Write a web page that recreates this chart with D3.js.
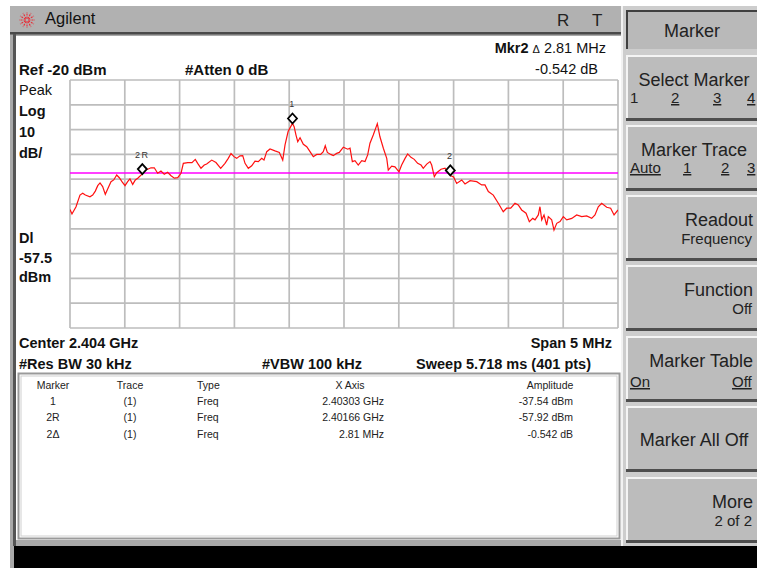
<!DOCTYPE html>
<html>
<head>
<meta charset="utf-8">
<script src="https://cdnjs.cloudflare.com/ajax/libs/d3/7.8.5/d3.min.js"></script>
<style>
body { margin: 0; background: #fff; }
svg text { font-family: "Liberation Sans", Arial, sans-serif; }
</style>
</head>
<body>
<svg id="screen" width="757" height="568"></svg>
<script>

// trace: offset from start freq 2401 MHz (MHz) and level (dBm)
var traceOffset = [
    0.000,0.018,0.055,0.091,0.116,0.140,0.182,0.207,0.231,0.253,
    0.274,0.298,0.322,0.353,0.374,0.399,0.426,0.450,0.474,0.502,
    0.526,0.547,0.572,0.596,0.618,0.660,0.678,0.709,0.739,0.769,
    0.800,0.830,0.860,0.891,0.922,0.952,0.983,1.013,1.034,1.074,
    1.113,1.143,1.165,1.195,1.225,1.247,1.293,1.332,1.375,1.414,
    1.444,1.469,1.496,1.521,1.551,1.576,1.597,1.627,1.658,1.688,
    1.718,1.749,1.770,1.795,1.825,1.870,1.910,1.941,1.962,1.990,
    2.030,2.045,2.062,2.078,2.099,2.129,2.160,2.190,2.220,2.251,
    2.287,2.311,2.329,2.348,2.379,2.402,2.433,2.457,2.494,2.534,
    2.555,2.576,2.600,2.630,2.662,2.692,2.716,2.737,2.767,2.804,
    2.828,2.859,2.890,2.904,2.935,2.965,3.002,3.026,3.057,3.081,
    3.111,3.141,3.172,3.203,3.223,3.255,3.285,3.300,3.324,3.346,
    3.385,3.422,3.470,3.500,3.528,3.574,3.604,3.650,3.711,3.756,
    3.786,3.817,3.862,3.908,3.953,3.984,4.021,4.060,4.090,4.121,
    4.161,4.191,4.222,4.243,4.273,4.288,4.304,4.325,4.349,4.364,
    4.395,4.416,4.441,4.471,4.501,4.532,4.578,4.623,4.669,4.714,
    4.760,4.790,4.820,4.851,4.897,4.933,4.964,5.000
];
var traceLevel = [
    -72.2,-74.0,-71.1,-66.4,-65.7,-66.4,-67.1,-66.4,-64.8,-62.6,
    -61.5,-63.0,-66.1,-63.0,-61.0,-60.3,-58.3,-59.4,-61.0,-62.6,
    -61.0,-59.9,-62.1,-60.3,-59.6,-57.9,-56.3,-56.0,-55.4,-55.4,
    -57.6,-56.7,-58.0,-57.2,-58.6,-59.6,-59.4,-57.6,-53.6,-53.3,
    -53.3,-52.0,-53.6,-55.6,-54.3,-53.9,-52.3,-53.3,-55.6,-53.6,
    -51.6,-49.6,-50.9,-51.6,-50.6,-50.5,-53.6,-55.6,-54.6,-52.7,
    -52.9,-51.6,-52.3,-48.9,-47.8,-48.6,-49.2,-52.3,-46.2,-40.8,
    -37.5,-38.8,-42.2,-44.9,-43.3,-45.9,-46.9,-48.9,-50.9,-50.0,
    -50.0,-48.9,-46.5,-49.2,-50.0,-50.5,-49.6,-49.2,-47.1,-47.9,
    -47.5,-52.9,-52.5,-54.3,-52.5,-52.9,-50.2,-45.5,-42.2,-37.6,
    -42.9,-47.5,-51.6,-56.3,-54.7,-55.0,-57.0,-54.3,-51.6,-49.8,
    -51.2,-52.0,-53.6,-54.3,-55.6,-53.9,-52.9,-54.3,-59.0,-57.4,
    -56.0,-55.6,-58.5,-59.1,-61.7,-60.3,-61.9,-60.6,-61.0,-62.3,
    -62.3,-65.0,-66.4,-69.7,-73.1,-71.7,-71.7,-69.7,-70.4,-72.4,
    -73.7,-77.1,-75.8,-76.4,-74.4,-71.1,-76.4,-74.4,-78.5,-75.1,
    -76.4,-80.5,-77.8,-77.1,-75.1,-76.4,-75.8,-74.4,-75.1,-74.8,
    -75.8,-74.4,-71.1,-69.7,-71.3,-71.7,-74.4,-72.4
];

var refLevel = -20;          // dBm, top of screen
var dbPerDiv = 10;
var spanMHz = 5;
var displayLine = -57.5;     // dBm

var markerNames = ["1", "2R", "2"];
var markerOffset = [2.03, 0.66, 3.47];
var markerLevel = [-37.54, -57.92, -58.46];

var tableHead = ["Marker", "Trace", "Type", "X Axis", "Amplitude"];
var tableMarker = ["1", "2R", "2\u0394"];
var tableTrace = ["(1)", "(1)", "(1)"];
var tableType = ["Freq", "Freq", "Freq"];
var tableX = ["2.40303 GHz", "2.40166 GHz", "2.81 MHz"];
var tableAmp = ["-37.54 dBm", "-57.92 dBm", "-0.542 dB"];

var leftLabels = ["Peak", "Log", "10", "dB/", "Dl", "-57.5", "dBm"];

var softkeyMain = ["Select Marker", "Marker Trace", "Readout", "Function", "Marker Table", "Marker All Off", "More"];
var softkeySub = [null, null, "Frequency", "Off", null, null, "2 of 2"];


var svg = d3.select("#screen");

// ---- frame / chrome ----
svg.append("rect").attr("x", 10).attr("y", 6).attr("width", 747).attr("height", 562).attr("fill", "#a9a9a9");
svg.append("rect").attr("x", 10).attr("y", 6).attr("width", 612).attr("height", 27).attr("fill", "#b1b1b1");
svg.append("rect").attr("x", 10).attr("y", 32).attr("width", 612).attr("height", 2.5).attr("fill", "#4a4a4a");
svg.append("rect").attr("x", 13).attr("y", 34).attr("width", 3).attr("height", 512).attr("fill", "#555");
svg.append("rect").attr("x", 16).attr("y", 36).attr("width", 605).attr("height", 504).attr("fill", "#fff");
svg.append("rect").attr("x", 14).attr("y", 546).attr("width", 743).attr("height", 22).attr("fill", "#000");

// agilent spark logo
var logo = svg.append("g").attr("transform", "translate(27,20)");
d3.range(12).forEach(function(i) {
    var a = i * Math.PI / 6;
    logo.append("line")
        .attr("x1", Math.cos(a) * 1.5).attr("y1", Math.sin(a) * 1.5)
        .attr("x2", Math.cos(a) * 8).attr("y2", Math.sin(a) * 8)
        .attr("stroke", "#e8303a").attr("stroke-width", 1.1)
        .attr("stroke-dasharray", "2,1");
});
svg.append("text").attr("x", 45).attr("y", 24).attr("font-size", 16.5).attr("fill", "#111").text("Agilent");
svg.append("text").attr("x", 557).attr("y", 26).attr("font-size", 17).attr("fill", "#222").text("R");
svg.append("text").attr("x", 592).attr("y", 26).attr("font-size", 17).attr("fill", "#222").text("T");

// ---- graticule ----
var x = d3.scaleLinear().domain([0, spanMHz]).range([70, 618]);
var y = d3.scaleLinear().domain([refLevel - 10 * dbPerDiv, refLevel]).range([328, 80]);

var grid = svg.append("g");
grid.selectAll(".vline")
    .data(x.ticks(10))
    .enter()
    .append("line")
    .attr("x1", function(d) { return x(d); })
    .attr("x2", function(d) { return x(d); })
    .attr("y1", y.range()[1])
    .attr("y2", y.range()[0])
    .attr("stroke", "#bdbdbd")
    .attr("stroke-width", 1.7);
grid.selectAll(".hline")
    .data(y.ticks(10))
    .enter()
    .append("line")
    .attr("x1", x.range()[0])
    .attr("x2", x.range()[1])
    .attr("y1", function(d) { return y(d); })
    .attr("y2", function(d) { return y(d); })
    .attr("stroke", "#bdbdbd")
    .attr("stroke-width", 1.7);

svg.append("clipPath").attr("id", "plotclip")
    .append("rect").attr("x", x.range()[0]).attr("y", y.range()[1])
    .attr("width", x.range()[1] - x.range()[0]).attr("height", y.range()[0] - y.range()[1]);

// display line
svg.append("line")
    .attr("x1", x.range()[0]).attr("x2", x.range()[1])
    .attr("y1", y(displayLine)).attr("y2", y(displayLine))
    .attr("stroke", "#ff00ff").attr("stroke-width", 1.6);

// trace
var trace = traceOffset.map(function(d, i) { return {f: d, v: traceLevel[i]}; });
var line = d3.line()
    .x(function(d) { return x(d.f); })
    .y(function(d) { return y(d.v); });

svg.append("path")
    .datum(trace)
    .attr("clip-path", "url(#plotclip)")
    .attr("d", line)
    .attr("fill", "none")
    .attr("stroke", "#ff1010")
    .attr("stroke-width", 1.2);

// markers
var markers = markerNames.map(function(d, i) { return {name: d, f: markerOffset[i], v: markerLevel[i]}; });
var mk = svg.selectAll(".mkr")
    .data(markers)
    .enter()
    .append("g")
    .attr("class", "mkr")
    .attr("transform", function(d) { return "translate(" + x(d.f) + "," + y(d.v) + ")"; });
mk.append("path")
    .attr("d", "M0,-10 L4.5,-5 L0,0 L-4.5,-5 Z")
    .attr("fill", "#fff")
    .attr("stroke", "#000")
    .attr("stroke-width", 1.8);
mk.append("text")
    .attr("x", 0).attr("y", -16)
    .attr("text-anchor", "middle")
    .attr("font-size", 9)
    .attr("letter-spacing", 1.5)
    .attr("fill", "#333")
    .text(function(d) { return d.name; });

// ---- annotations ----
var mkr = svg.append("text").attr("x", 606).attr("y", 53).attr("text-anchor", "end").attr("font-size", 14.5).attr("fill", "#111");
mkr.append("tspan").attr("font-weight", "bold").text("Mkr2 ");
mkr.append("tspan").attr("font-size", 11).text("\u0394");
mkr.append("tspan").text("  2.81 MHz");
svg.append("text").attr("x", 598).attr("y", 74).attr("text-anchor", "end").attr("font-size", 14.5).attr("fill", "#111").text("-0.542 dB");

svg.append("text").attr("x", 19).attr("y", 75).attr("font-size", 15).attr("font-weight", "bold").attr("fill", "#111").text("Ref -20 dBm");
svg.append("text").attr("x", 185).attr("y", 75).attr("font-size", 15).attr("font-weight", "bold").attr("fill", "#111").text("#Atten 0 dB");

var leftY = [95, 116, 137, 158, 243, 263, 282];
svg.selectAll(".lefttxt")
    .data(leftLabels)
    .enter()
    .append("text")
    .attr("x", 19)
    .attr("y", function(d, i) { return leftY[i]; })
    .attr("font-size", 14.5)
    .attr("font-weight", function(d, i) { return i == 0 ? "normal" : "bold"; })
    .attr("fill", "#111")
    .text(function(d) { return d; });

svg.append("text").attr("x", 19).attr("y", 348).attr("font-size", 14.5).attr("font-weight", "bold").attr("fill", "#111").text("Center 2.404 GHz");
svg.append("text").attr("x", 612).attr("y", 348).attr("text-anchor", "end").attr("font-size", 14.5).attr("font-weight", "bold").attr("fill", "#111").text("Span 5 MHz");
svg.append("text").attr("x", 19).attr("y", 369).attr("font-size", 14.5).attr("font-weight", "bold").attr("fill", "#111").text("#Res BW 30 kHz");
svg.append("text").attr("x", 262).attr("y", 369).attr("font-size", 14.5).attr("font-weight", "bold").attr("fill", "#111").text("#VBW 100 kHz");
svg.append("text").attr("x", 591).attr("y", 369).attr("text-anchor", "end").attr("font-size", 14.5).attr("font-weight", "bold").attr("fill", "#111").text("Sweep 5.718 ms (401 pts)");

// ---- marker table ----
svg.append("rect").attr("x", 18.5).attr("y", 373.5).attr("width", 601).attr("height", 165)
    .attr("fill", "#fff").attr("stroke", "#9a9a9a").attr("stroke-width", 2);
svg.append("rect").attr("x", 21).attr("y", 376).attr("width", 596).attr("height", 160)
    .attr("fill", "none").attr("stroke", "#d0d0d0").attr("stroke-width", 1);

var colX = [53, 130, 197, 384, 573];
var colAnchor = ["middle", "middle", "start", "end", "end"];
var headX = [53, 130, 197, 350, 550];
var headAnchor = ["middle", "middle", "start", "middle", "middle"];

svg.selectAll(".thead")
    .data(tableHead)
    .enter()
    .append("text")
    .attr("x", function(d, i) { return headX[i]; })
    .attr("y", 389)
    .attr("text-anchor", function(d, i) { return headAnchor[i]; })
    .attr("font-size", 10.5)
    .attr("fill", "#222")
    .text(function(d) { return d; });

var rows = tableMarker.map(function(d, i) {
    return [d, tableTrace[i], tableType[i], tableX[i], tableAmp[i]];
});
var rowY = [405, 421, 438];
var rowSel = svg.selectAll(".trow")
    .data(rows)
    .enter()
    .append("g")
    .attr("transform", function(d, i) { return "translate(0," + rowY[i] + ")"; });
rowSel.selectAll("text")
    .data(function(d) { return d; })
    .enter()
    .append("text")
    .attr("x", function(d, i) { return colX[i]; })
    .attr("text-anchor", function(d, i) { return colAnchor[i]; })
    .attr("font-size", 10.5)
    .attr("fill", "#222")
    .text(function(d) { return d; });

// ---- softkey panel ----
svg.append("rect").attr("x", 621).attr("y", 6).attr("width", 136).attr("height", 540).attr("fill", "#cdcdcd");
svg.append("rect").attr("x", 621).attr("y", 6).attr("width", 2).attr("height", 540).attr("fill", "#f2f2f2");
svg.append("rect").attr("x", 626).attr("y", 10).attr("width", 131).attr("height", 39).attr("fill", "#b9b9b9");
svg.append("path").attr("d", "M627,49 V11 H757").attr("fill", "none").attr("stroke", "#404040").attr("stroke-width", 2);
svg.append("text").attr("x", 692).attr("y", 37).attr("text-anchor", "middle").attr("font-size", 18).attr("fill", "#222").text("Marker");

var keyTop = [55, 125, 195, 265, 336, 406, 477];
var keys = svg.selectAll(".key")
    .data(softkeyMain)
    .enter()
    .append("g")
    .attr("class", "key")
    .attr("transform", function(d, i) { return "translate(626," + keyTop[i] + ")"; });
keys.append("rect").attr("width", 131).attr("height", 66).attr("fill", "#bcbcbc");
keys.append("rect").attr("width", 131).attr("height", 2).attr("fill", "#f4f4f4");
keys.append("rect").attr("width", 2).attr("height", 66).attr("fill", "#f4f4f4");
keys.append("rect").attr("y", 63).attr("width", 131).attr("height", 3).attr("fill", "#4e4e4e");

keys.append("text")
    .attr("x", function(d, i) { return (i < 2 || i == 5) ? 68 : 127; })
    .attr("y", function(d, i) { return i == 5 ? 40 : 31; })
    .attr("text-anchor", function(d, i) { return (i < 2 || i == 5) ? "middle" : "end"; })
    .attr("font-size", 18)
    .attr("fill", "#222")
    .text(function(d) { return d; });
keys.filter(function(d, i) { return softkeySub[i]; })
    .append("text")
    .attr("x", 126)
    .attr("y", 49)
    .attr("text-anchor", "end")
    .attr("font-size", 15)
    .attr("fill", "#222")
    .text(function(d) { return softkeySub[softkeyMain.indexOf(d)]; });

// choice rows with underlines
var choices = [
    {k: 0, t: "1", x: 4, u: false}, {k: 0, t: "2", x: 45, u: true}, {k: 0, t: "3", x: 87, u: true}, {k: 0, t: "4", x: 121, u: true},
    {k: 1, t: "Auto", x: 4, u: true}, {k: 1, t: "1", x: 57, u: true}, {k: 1, t: "2", x: 95, u: true}, {k: 1, t: "3", x: 121, u: true},
    {k: 4, t: "On", x: 4, u: true}, {k: 4, t: "Off", x: 106, u: true}
];
svg.selectAll(".choice")
    .data(choices)
    .enter()
    .append("text")
    .attr("x", function(d) { return 626 + d.x; })
    .attr("y", function(d) { return keyTop[d.k] + (d.k == 4 ? 51 : 48); })
    .attr("font-size", 15)
    .attr("fill", "#222")
    .attr("text-decoration", function(d) { return d.u ? "underline" : null; })
    .text(function(d) { return d.t; });

</script>
</body>
</html>
